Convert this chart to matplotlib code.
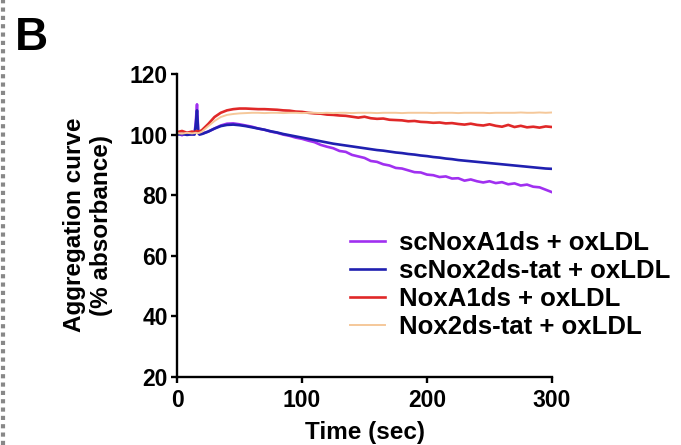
import matplotlib
matplotlib.use("Agg")
import matplotlib.pyplot as plt
from matplotlib.lines import Line2D

plt.rcParams['font.family'] = ['Liberation Sans', 'DejaVu Sans']
plt.rcParams['font.weight'] = 'bold'

time = [0, 4, 8, 12, 14, 15, 16, 17, 18] + list(range(20, 301, 5))

sc_noxa1ds = [100.5, 99.8, 100.6, 100.0, 100.3, 104.0, 110.0, 101.0, 100.2,
              100.3, 101.0, 102.0, 103.0, 103.6, 103.7, 103.4, 103.0, 102.6, 102.0,
              101.6, 101.0, 100.6, 100.0, 99.6, 99.0, 98.6, 98.0, 97.5, 96.6,
              96.0, 95.5, 94.6, 94.3, 93.3, 92.8, 92.3, 91.3, 91.0, 90.2,
              89.8, 89.0, 88.8, 88.2, 87.6, 87.5, 86.8, 86.6, 86.0, 86.2,
              85.5, 85.6, 84.8, 85.2, 84.6, 84.2, 84.6, 84.0, 84.3, 83.6,
              83.9, 83.2, 83.5, 82.8, 82.6, 81.8, 81.0]

sc_nox2ds = [100.0, 100.2, 99.9, 100.1, 100.0, 103.0, 108.0, 100.5, 100.0,
             100.2, 101.0, 102.0, 102.8, 103.2, 103.3, 103.1, 102.8, 102.4, 102.0,
             101.6, 101.1, 100.7, 100.2, 99.8, 99.4, 99.0, 98.6, 98.2, 97.8,
             97.4, 97.0, 96.7, 96.4, 96.1, 95.8, 95.5, 95.2, 94.9, 94.7,
             94.4, 94.1, 93.9, 93.6, 93.4, 93.1, 92.9, 92.6, 92.4, 92.1,
             91.9, 91.6, 91.4, 91.2, 91.0, 90.8, 90.6, 90.4, 90.2, 90.0,
             89.8, 89.6, 89.4, 89.2, 89.0, 88.8, 88.7]

noxa1ds = [100.8, 101.2, 100.6, 101.0, 100.8, 101.0, 101.2, 100.8, 101.0,
           101.5, 103.5, 105.8, 107.2, 108.0, 108.4, 108.6, 108.6, 108.5, 108.4,
           108.4, 108.3, 108.2, 108.0, 107.9, 107.6, 107.5, 107.2, 107.0, 106.9,
           106.6, 106.5, 106.3, 106.2, 105.9, 105.6, 105.9, 105.4, 105.2, 105.3,
           104.9, 104.8, 104.7, 104.4, 104.5, 104.2, 104.1, 103.9, 104.0, 103.7,
           103.8, 103.5, 103.3, 103.6, 103.2, 103.0, 103.4, 102.9, 102.6, 103.2,
           102.5, 102.9, 102.4, 102.6, 102.3, 102.7, 102.5]

nox2ds = [100.5, 100.3, 100.6, 100.4, 100.5, 100.6, 100.5, 100.5, 100.6,
          101.0, 102.8, 104.5, 105.8, 106.5, 106.8, 107.0, 107.1, 107.2, 107.2,
          107.1, 107.2, 107.2, 107.1, 107.2, 107.2, 107.1, 107.2, 107.2, 107.1,
          107.2, 107.1, 107.2, 107.2, 107.1, 107.2, 107.2, 107.2, 107.1, 107.2,
          107.2, 107.2, 107.1, 107.2, 107.2, 107.2, 107.2, 107.1, 107.2, 107.2,
          107.2, 107.1, 107.2, 107.2, 107.2, 107.2, 107.1, 107.2, 107.2, 107.2,
          107.2, 107.3, 107.2, 107.2, 107.3, 107.2, 107.3]

labels = ['scNoxA1ds + oxLDL', 'scNox2ds-tat + oxLDL', 'NoxA1ds + oxLDL', 'Nox2ds-tat + oxLDL']
colors = ['#A030F0', '#2020B0', '#E02828', '#F5C89A']
xticks = [0, 100, 200, 300]
yticks = [20, 40, 60, 80, 100, 120]

fig = plt.figure(figsize=(6.81, 4.45), dpi=100)
ax = fig.add_axes([177/681, 1-377/445, (552-177)/681, (377-74)/445])

series = [sc_noxa1ds, sc_nox2ds, noxa1ds, nox2ds]
handles = []
for s, c, lab, lw in zip(series, colors, labels, [1.9, 1.9, 1.9, 1.4]):
    h, = ax.plot(time, s, color=c, lw=lw, label=lab)
    handles.append(h)

ax.set_xlim(0, 300)
ax.set_ylim(20, 120)
ax.set_xticks(xticks)
ax.set_yticks(yticks)
for sp in ['top', 'right']:
    ax.spines[sp].set_visible(False)
for sp in ['left', 'bottom']:
    ax.spines[sp].set_linewidth(1.7)
ax.tick_params(direction='out', length=4.5, width=1.7, labelsize=16.5)
ax.tick_params(axis='x', pad=4)
ax.tick_params(axis='y', pad=2)
for t in ax.get_xticklabels() + ax.get_yticklabels():
    t.set_fontweight('bold')

fig.text(364.5/681, 1-432/445, 'Time (sec)', fontsize=17.5, fontweight='bold',
         ha='center', va='center')
fig.text(88/681, 1-225/445, 'Aggregation curve\n(% absorbance)', fontsize=17.5,
         fontweight='bold', rotation=90, ha='center', va='center',
         multialignment='center', linespacing=1.25)

leg = fig.legend(handles=handles, labels=labels, loc='upper left',
                 bbox_to_anchor=(350/681, 1-231/445), bbox_transform=fig.transFigure,
                 frameon=False, handlelength=1.35, handletextpad=0.55,
                 labelspacing=0.15, borderpad=0, borderaxespad=0,
                 prop={'weight': 'bold', 'size': 18.5})

fig.text(15/681, 1-50/445, 'B', fontsize=33, fontweight='bold', ha='left', va='baseline')

fig.add_artist(Line2D([0.004, 0.004], [0, 1], transform=fig.transFigure,
                      ls=(0, (1, 1)), color='#888888', lw=3))

fig.savefig('out.png', dpi=100)
